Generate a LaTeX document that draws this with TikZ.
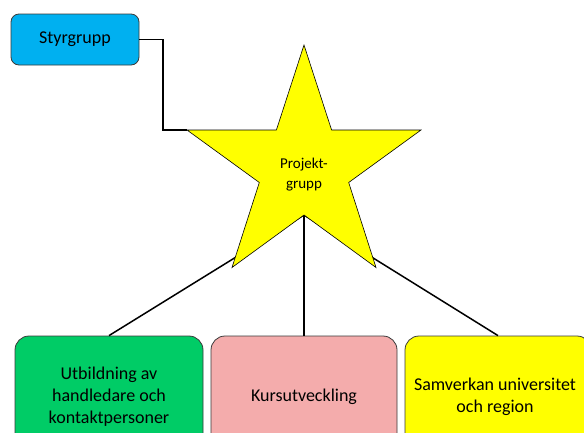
\documentclass[tikz,border=0pt]{standalone}
\usepackage{fontspec}
\setmainfont{Carlito}
\definecolor{cyanbox}{HTML}{00B0F0}
\definecolor{greenbox}{HTML}{00CC66}
\definecolor{pinkbox}{HTML}{F4ACAC}
\definecolor{yelbox}{HTML}{FFFF00}
\definecolor{edgegray}{HTML}{3A3A3A}
\begin{document}
\begin{tikzpicture}[x=1pt,y=-1pt,
  box/.style={draw=edgegray,line width=0.8pt,rounded corners=14pt,minimum width=188pt,minimum height=122pt,align=center,inner sep=0pt,font=\fontsize{18}{22}\selectfont,text=black},
  conn/.style={draw=black,line width=1.5pt},
  starbody/.style={draw=black,line width=0.6pt,fill=yelbox}]
\useasboundingbox (0,0) rectangle (584,432);
\clip (0,0) rectangle (584,432);
% star points
\coordinate (sT) at (304,45);
\coordinate (i1) at (331.6,130);
\coordinate (sR) at (421,130);
\coordinate (i2) at (348.7,182.5);
\coordinate (sBR) at (376,267.5);
\coordinate (pj) at (304,215);
\coordinate (sBL) at (232,267.5);
\coordinate (i4) at (259.3,182.5);
\coordinate (sL) at (187,130);
\coordinate (i5) at (276.4,130);
\coordinate (bend) at (163,130);
% boxes
\node[box,fill=cyanbox,minimum width=128pt,minimum height=51pt,rounded corners=8pt] (sty) at (75,39.5) {Styrgrupp};
\node[box,fill=greenbox] (utb) at (109,397) {Utbildning av\\handledare och\\kontaktpersoner};
\node[box,fill=pinkbox,minimum width=186pt] (kurs) at (304,397) {Kursutveckling};
\node[box,fill=yelbox,minimum width=186pt] (sam) at (498,397) {\hspace*{-6pt}Samverkan universitet\\\hspace*{-6pt}och region};
% connectors
\draw[conn] (pj) -- (utb.north);
\draw[conn] (pj) -- (kurs.north);
\draw[conn] (pj) -- (sam.north);
\draw[conn] (sty.east) -| (bend) -- (sL);
% star
\draw[starbody] (sT) -- (i1) -- (sR) -- (i2) -- (sBR) -- (pj) -- (sBL) -- (i4) -- (sL) -- (i5) -- cycle;
\node[align=center,inner sep=0pt,font=\fontsize{15}{20}\selectfont] (proj) at (304,175) {Projekt-\\grupp};
\end{tikzpicture}
\end{document}
